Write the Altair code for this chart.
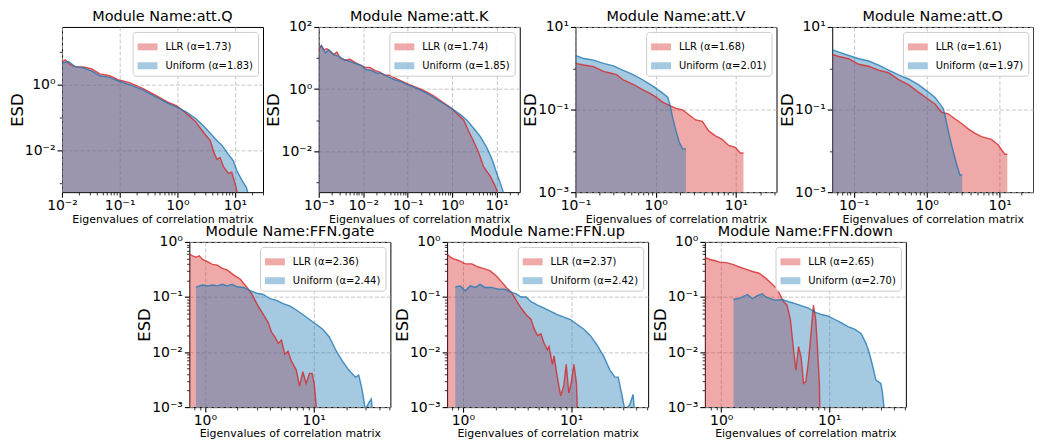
import altair as alt
import pandas as pd
import math

FONT = "DejaVu Sans"
RED = "#d62728"
BLUE = "#1f77b4"

MODULES = ["att.Q", "att.K", "att.V", "att.O", "FFN.gate", "FFN.up", "FFN.down"]
ALPHA_LLR = [1.73, 1.74, 1.68, 1.61, 2.36, 2.37, 2.65]
ALPHA_UNI = [1.83, 1.85, 2.01, 1.97, 2.44, 2.42, 2.70]

# ---- att.Q ----
Q_LLR_X = [0.01, 0.0114, 0.0139, 0.0169, 0.0235, 0.0327, 0.0454, 0.0674, 0.0936, 0.148, 0.251, 0.425, 0.72,
           0.96, 1.39, 2.06, 2.86, 3.73, 4.25, 4.85, 5.53, 6.31, 7.69, 8.77, 10.0, 11.4]
Q_LLR_Y = [5.0, 5.6, 4.0, 3.5, 3.4, 3.0, 2.1, 1.85, 1.4, 1.14, 0.77, 0.47, 0.28,
           0.23, 0.14, 0.076, 0.035, 0.020, 0.0093, 0.0054, 0.006, 0.0032, 0.002, 0.0022, 0.001, 0.0004]
Q_UNI_X = [0.01, 0.013, 0.0169, 0.0235, 0.0327, 0.0454, 0.0674, 0.0936, 0.148, 0.251, 0.425, 0.72, 0.96,
           1.39, 2.06, 2.86, 3.73, 4.85, 5.91, 7.69, 9.36, 10.7, 13.0, 15.8, 17.4]
Q_UNI_Y = [4.5, 5.0, 3.5, 3.2, 2.6, 1.85, 1.65, 1.3, 1.0, 0.69, 0.42, 0.26, 0.21,
           0.15, 0.095, 0.055, 0.033, 0.020, 0.0145, 0.0076, 0.0048, 0.0025, 0.0013, 0.00074, 0.0004]

# ---- att.K ----
K_LLR_X = [0.001, 0.00115, 0.00129, 0.00153, 0.00182, 0.00215, 0.00255, 0.00303, 0.00392, 0.00506,
           0.00653, 0.00843, 0.0109, 0.0141, 0.0182, 0.0235, 0.0303, 0.0392, 0.0506, 0.0711,
           0.1, 0.141, 0.198, 0.278, 0.392, 0.551, 0.774, 1.0, 1.29, 1.82,
           2.35, 3.03, 3.91, 5.06, 7.11, 9.18, 10.9]
K_LLR_Y = [18.6, 25, 18.6, 20, 16.6, 12.9, 15.5, 10.2, 8.5, 9.1,
           7.2, 6.0, 5.0, 5.0, 4.0, 3.5, 2.8, 2.8, 2.3, 1.85,
           1.46, 1.2, 1.0, 0.79, 0.59, 0.42, 0.30, 0.23, 0.16, 0.10,
           0.044, 0.021, 0.0093, 0.0032, 0.0016, 0.00078, 0.0004]
K_UNI_X = [0.001, 0.00115, 0.00141, 0.00167, 0.00215, 0.00278, 0.0036, 0.00464, 0.00653, 0.00918,
           0.0119, 0.0153, 0.0198, 0.0255, 0.036, 0.0506, 0.0711, 0.1, 0.141, 0.198,
           0.278, 0.392, 0.551, 0.774, 1.0, 1.53, 2.15, 3.03, 4.26, 6.0,
           7.74, 10.0, 12.3, 14.6]
K_UNI_Y = [21, 25, 14.6, 18.6, 12.9, 11.5, 9.1, 8.1, 6.7, 5.7,
           4.2, 4.0, 3.3, 3.2, 2.5, 2.0, 1.73, 1.36, 1.13, 0.91,
           0.72, 0.53, 0.39, 0.29, 0.23, 0.15, 0.1, 0.055, 0.03, 0.013,
           0.0058, 0.002, 0.00087, 0.0004]

# ---- att.V ----
V_LLR_X = [0.1, 0.127, 0.168, 0.224, 0.27, 0.326, 0.394, 0.523, 0.695, 0.84,
           1.01, 1.22, 1.48, 1.79, 2.16, 2.61, 3.16, 3.81, 4.6, 5.56,
           6.72, 8.12, 9.82, 11.3, 12.4]
V_LLR_Y = [1.31, 1.2, 1.1, 0.84, 0.77, 0.70, 0.52, 0.41, 0.30, 0.25,
           0.2, 0.152, 0.127, 0.107, 0.098, 0.074, 0.056, 0.052, 0.030, 0.023,
           0.019, 0.0135, 0.0122, 0.0089, 0.0089]
V_UNI_X = [0.1, 0.127, 0.168, 0.224, 0.297, 0.394, 0.523, 0.695, 0.923, 1.22,
           1.41, 1.51, 1.63, 1.79, 1.97, 2.16, 2.38]
V_UNI_Y = [2.06, 1.72, 1.57, 1.31, 1.14, 0.885, 0.70, 0.52, 0.37, 0.25,
           0.2, 0.127, 0.062, 0.030, 0.016, 0.0112, 0.0112]

# ---- att.O ----
O_LLR_X = [0.0507, 0.0624, 0.0855, 0.117, 0.160, 0.219, 0.30, 0.411, 0.562, 0.77,
           1.05, 1.30, 1.60, 1.97, 2.43, 3.0, 3.70, 4.56, 5.62, 7.7,
           9.49, 11.7, 12.7]
O_LLR_Y = [2.15, 1.93, 1.70, 1.25, 1.12, 0.905, 0.78, 0.53, 0.40, 0.265,
           0.178, 0.136, 0.086, 0.079, 0.06, 0.046, 0.034, 0.027, 0.022, 0.019,
           0.014, 0.0083, 0.0083]
O_UNI_X = [0.0507, 0.0624, 0.0855, 0.117, 0.160, 0.219, 0.30, 0.411, 0.562, 0.77,
           1.05, 1.30, 1.52, 1.69, 1.82, 2.02, 2.24, 2.56, 2.85, 3.06]
O_UNI_Y = [2.83, 2.45, 2.04, 1.70, 1.50, 1.19, 0.905, 0.69, 0.55, 0.40,
           0.265, 0.195, 0.136, 0.104, 0.060, 0.025, 0.0118, 0.0048, 0.0026, 0.0026]

# ---- FFN.gate ----
G_LLR_X = [0.721, 0.773, 0.829, 0.889, 0.953, 1.057, 1.174, 1.30, 1.45, 1.60,
           1.85, 2.12, 2.44, 2.70, 3.0, 3.45, 3.83, 4.10, 4.40, 4.72,
           5.06, 5.42, 5.81, 6.23, 6.92, 7.41, 7.95, 8.52, 9.14, 9.66,
           10.1, 10.9]
G_LLR_Y = [0.60, 0.56, 0.53, 0.56, 0.48, 0.44, 0.39, 0.38, 0.33, 0.31,
           0.25, 0.21, 0.149, 0.114, 0.076, 0.048, 0.034, 0.023, 0.0188, 0.0144,
           0.0165, 0.0091, 0.0103, 0.0069, 0.0047, 0.0024, 0.0044, 0.0027, 0.0041, 0.0041,
           0.0027, 0.0005]
G_UNI_X = [0.829, 0.889, 0.953, 1.057, 1.174, 1.30, 1.45, 1.60, 1.78, 1.98,
           2.27, 2.61, 3.0, 3.45, 3.96, 4.56, 5.24, 6.02, 6.92, 7.95,
           9.14, 10.5, 12.1, 13.9, 15.9, 18.3, 21.0, 24.2, 25.9, 27.8,
           29.8, 32.0, 33.8, 35.5]
G_UNI_Y = [0.149, 0.159, 0.165, 0.159, 0.165, 0.159, 0.17, 0.159, 0.17, 0.153,
           0.149, 0.13, 0.117, 0.111, 0.093, 0.087, 0.076, 0.069, 0.058, 0.048,
           0.039, 0.032, 0.026, 0.0188, 0.011, 0.0069, 0.0047, 0.0035, 0.0038, 0.0021,
           0.0009, 0.0012, 0.0014, 0.0005]

# ---- FFN.up ----
U_LLR_X = [0.715, 0.766, 0.822, 0.913, 1.05, 1.21, 1.39, 1.54, 1.78, 2.04,
           2.27, 2.52, 2.80, 3.11, 3.45, 3.83, 4.26, 4.57, 4.90, 5.25,
           5.63, 6.04, 6.25, 6.71, 6.95, 7.45, 8.0, 8.57, 9.0, 9.52,
           10.0, 10.6, 11.2, 11.5]
U_LLR_Y = [0.60, 0.53, 0.49, 0.46, 0.40, 0.40, 0.35, 0.33, 0.30, 0.24,
           0.19, 0.149, 0.122, 0.087, 0.063, 0.048, 0.039, 0.026, 0.020, 0.0214,
           0.0144, 0.011, 0.0126, 0.006, 0.0085, 0.0035, 0.0016, 0.0025, 0.006, 0.0018,
           0.0027, 0.006, 0.0027, 0.0005]
U_UNI_X = [0.851, 0.946, 1.05, 1.17, 1.30, 1.44, 1.60, 1.84, 2.11, 2.43,
           2.80, 3.11, 3.45, 3.83, 4.26, 4.90, 5.63, 6.48, 7.45, 8.57,
           9.86, 11.3, 13.1, 15.0, 17.3, 19.9, 22.8, 25.4, 27.2, 29.2,
           31.3, 34.8, 37.3, 39.4]
U_UNI_Y = [0.153, 0.159, 0.13, 0.159, 0.149, 0.17, 0.149, 0.149, 0.139, 0.139,
           0.122, 0.114, 0.1, 0.1, 0.082, 0.071, 0.063, 0.055, 0.048, 0.043,
           0.039, 0.032, 0.026, 0.020, 0.0135, 0.0085, 0.0047, 0.0035, 0.0035, 0.0018,
           0.0009, 0.0011, 0.0017, 0.0005]

# ---- FFN.down ----
D_LLR_X = [0.705, 0.782, 0.869, 0.966, 1.11, 1.28, 1.47, 1.69, 1.95, 2.24,
           2.58, 2.97, 3.30, 3.54, 3.79, 4.07, 4.37, 4.69, 4.92, 5.2,
           5.5, 5.78, 6.08, 6.43, 6.80, 7.14, 7.50, 7.82, 8.11, 8.22]
D_LLR_Y = [0.53, 0.48, 0.46, 0.43, 0.42, 0.39, 0.35, 0.32, 0.29, 0.27,
           0.22, 0.17, 0.139, 0.106, 0.082, 0.071, 0.039, 0.0103, 0.0047, 0.0126,
           0.0079, 0.0027, 0.0029, 0.0069, 0.023, 0.071, 0.039, 0.0103, 0.0027, 0.0005]
D_UNI_X = [1.30, 1.42, 1.58, 1.75, 1.95, 2.16, 2.40, 2.58, 2.87, 3.18,
           3.66, 4.22, 4.85, 5.58, 6.43, 7.39, 8.51, 9.79, 11.3, 13.0,
           14.9, 17.2, 19.8, 21.9, 23.5, 25.2, 27.1, 30.1, 31.2, 32.3, 33.0]
D_UNI_Y = [0.091, 0.093, 0.1, 0.111, 0.093, 0.106, 0.114, 0.1, 0.093, 0.087,
           0.09, 0.082, 0.076, 0.069, 0.063, 0.053, 0.048, 0.045, 0.039, 0.034,
           0.029, 0.026, 0.0215, 0.0144, 0.0097, 0.0057, 0.0031, 0.0027, 0.0018, 0.0009, 0.0005]

SERIES = [
    (Q_LLR_X, Q_LLR_Y, Q_UNI_X, Q_UNI_Y),
    (K_LLR_X, K_LLR_Y, K_UNI_X, K_UNI_Y),
    (V_LLR_X, V_LLR_Y, V_UNI_X, V_UNI_Y),
    (O_LLR_X, O_LLR_Y, O_UNI_X, O_UNI_Y),
    (G_LLR_X, G_LLR_Y, G_UNI_X, G_UNI_Y),
    (U_LLR_X, U_LLR_Y, U_UNI_X, U_UNI_Y),
    (D_LLR_X, D_LLR_Y, D_UNI_X, D_UNI_Y),
]

X_DOMAINS = [[0.01, 30.6], [0.001, 33], [0.1, 32], [0.0507, 28.8], [0.721, 50.6], [0.715, 51.4], [0.705, 51.3]]
Y_DOMAINS = [[5.4e-4, 56], [4.8e-4, 100], [1e-3, 10], [1e-3, 10], [1e-3, 1], [1e-3, 1], [1e-3, 1]]
X_MAJOR_EXP = [[-2, -1, 0, 1], [-3, -2, -1, 0, 1], [-1, 0, 1], [-1, 0, 1], [0, 1], [0, 1], [0, 1]]
Y_MAJOR_EXP = [[-2, 0], [-2, 0, 2], [-3, -1, 1], [-3, -1, 1], [-3, -2, -1, 0], [-3, -2, -1, 0], [-3, -2, -1, 0]]

SUP = {"-": "\u207b", "0": "\u2070", "1": "\u00b9", "2": "\u00b2", "3": "\u00b3",
       "4": "\u2074", "5": "\u2075", "6": "\u2076", "7": "\u2077", "8": "\u2078", "9": "\u2079"}

W, H = 202, 166


def tick_sets(domain, major_exp):
    lo, hi = domain
    majors = [10.0 ** e for e in major_exp]
    minors = []
    e0, e1 = math.floor(math.log10(lo)), math.ceil(math.log10(hi))
    stride = major_exp[1] - major_exp[0] if len(major_exp) > 1 else 1
    for e in range(e0, e1 + 1):
        if stride == 1:
            for m in range(2, 10):
                v = m * 10.0 ** e
                if lo <= v <= hi:
                    minors.append(v)
        else:
            v = 10.0 ** e
            if lo <= v <= hi and e not in major_exp:
                minors.append(v)
    return majors, minors, major_exp


def log_axis(domain, major_exp, title, title_size, is_y):
    majors, minors, exps = tick_sets(domain, major_exp)
    conds = [f"abs(datum.value/{v!r}-1)<1e-6" for v in majors]
    test = " || ".join(conds)
    expr = ""
    for c, e in zip(conds, exps):
        lab = "10" + "".join(SUP[ch] for ch in str(e))
        expr += f"{c} ? '{lab}' : "
    expr += "''"
    kw = dict(
        values=sorted(majors + minors),
        labelExpr=expr,
        title=title,
        labelOverlap=False,
        labelFlush=False,
        domain=False,
        ticks=True,
        tickColor="black",
        tickSize=5,
        tickDash={"condition": {"test": test, "value": [6, 0]}, "value": [2.8, 20]},
        tickWidth={"condition": {"test": test, "value": 1.1}, "value": 0.8},
        grid=True,
        gridColor="#b0b0b0",
        gridDash=[4, 2],
        gridWidth=0.8,
        gridOpacity={"condition": {"test": test, "value": 0.9}, "value": 0},
        labelFont=FONT,
        labelFontSize=14,
        labelColor="black",
        titleFont=FONT,
        titleFontSize=title_size,
        titleFontWeight="normal",
        titleColor="black",
    )
    if is_y:
        kw.update(labelPadding=2, titlePadding=3, minExtent=34, maxExtent=34)
    else:
        kw.update(labelPadding=1, titlePadding=1)
    return alt.Axis(**kw)


def panel(i):
    lx, ly, ux, uy = SERIES[i]
    lab_l = f"LLR (\u03b1={ALPHA_LLR[i]:.2f})"
    lab_u = f"Uniform (\u03b1={ALPHA_UNI[i]:.2f})"
    df = pd.concat([
        pd.DataFrame({"x": lx, "y": ly, "series": lab_l}),
        pd.DataFrame({"x": ux, "y": uy, "series": lab_u}),
    ], ignore_index=True)
    xs = alt.Scale(type="log", domain=X_DOMAINS[i], nice=False)
    ys = alt.Scale(type="log", domain=Y_DOMAINS[i], nice=False)
    cdom = [lab_l, lab_u]
    legend = alt.Legend(
        title=None, orient="top-right", offset=5, padding=5, cornerRadius=3,
        fillColor="rgba(255,255,255,0.85)", strokeColor="#cccccc",
        labelFont=FONT, labelFontSize=10, labelColor="black", labelOffset=8,
        symbolType="M-1,-0.35L1,-0.35L1,0.35L-1,0.35Z", symbolSize=400,
        symbolOpacity=0.4, symbolStrokeWidth=0, rowPadding=4,
    )
    # the top y label sticks out above the frame when the domain ends on a labelled decade
    top_exp = math.log10(Y_DOMAINS[i][1])
    overhang = abs(top_exp - round(top_exp)) < 1e-6 and round(top_exp) in Y_MAJOR_EXP[i]
    base = alt.Chart(df)
    area = base.mark_area(opacity=0.4, clip=True, interpolate="linear").encode(
        x=alt.X("x:Q", scale=xs, axis=log_axis(X_DOMAINS[i], X_MAJOR_EXP[i],
                                               "Eigenvalues of correlation matrix", 11, False)),
        y=alt.Y("y:Q", scale=ys, stack=None,
                axis=log_axis(Y_DOMAINS[i], Y_MAJOR_EXP[i], "ESD", 16.5, True)),
        fill=alt.Fill("series:N", scale=alt.Scale(domain=cdom, range=[RED, BLUE]), legend=legend),
    )
    line = base.mark_line(strokeWidth=1.4, opacity=0.8, clip=True).encode(
        x="x:Q",
        y=alt.Y("y:Q", stack=None),
        stroke=alt.Stroke("series:N", scale=alt.Scale(domain=cdom, range=[RED, BLUE]), legend=None),
    )
    return alt.layer(area, line).properties(
        width=W, height=H,
        title=alt.Title(f"Module Name:{MODULES[i]}", font=FONT, fontSize=14.5, fontWeight="normal",
                        color="black", offset=-5 if overhang else 2, anchor="middle"),
    )


top = alt.hconcat(*[panel(i) for i in range(4)], spacing=56, bounds="flush").resolve_scale(
    fill="independent", stroke="independent")
bottom = alt.hconcat(*[panel(i) for i in range(4, 7)], spacing=57, bounds="flush").resolve_scale(
    fill="independent", stroke="independent")

chart = alt.vconcat(top, bottom, spacing=-1, center=True).resolve_scale(
    fill="independent", stroke="independent"
).properties(
    padding={"left": 0, "top": 0, "right": 0, "bottom": 0}
).configure(background="white").configure_view(stroke="black", strokeWidth=1)

chart.save("out.html", embed_options={"renderer": "svg", "actions": False})
